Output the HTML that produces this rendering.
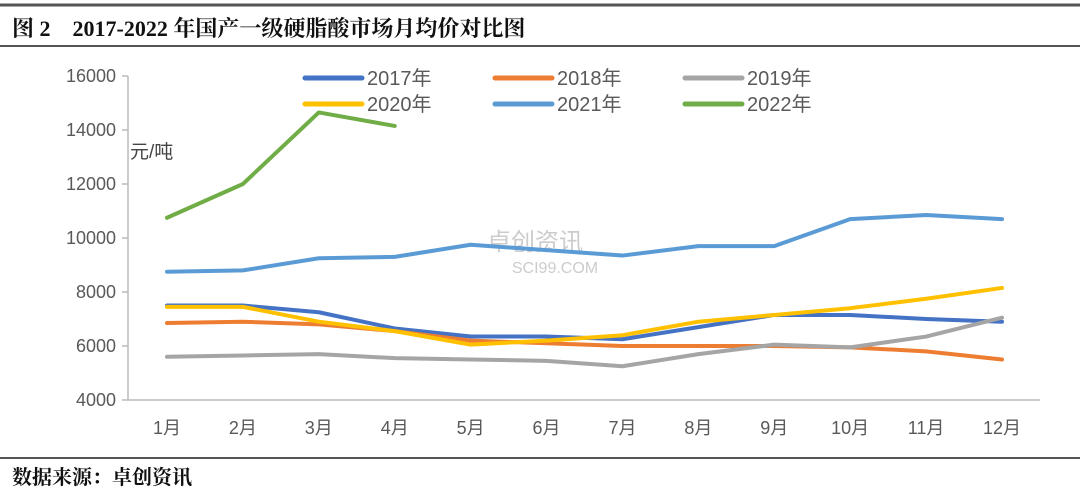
<!DOCTYPE html>
<html><head><meta charset="utf-8">
<style>
body{margin:0;width:1080px;height:493px;background:#fff;overflow:hidden;font-family:"Liberation Sans","Noto Sans CJK SC",sans-serif;}
svg text{font-family:"Liberation Sans","Noto Sans CJK SC",sans-serif;}
svg text.serif{font-family:"Liberation Serif","Noto Serif CJK SC",serif;}
</style></head>
<body>
<svg width="1080" height="493">
<line x1="0" y1="5" x2="1080" y2="5" stroke="#555" stroke-width="3"/>
<text class="serif" x="12" y="36" font-size="22" fill="#111" font-weight="bold">图 2　2017-2022 年国产一级硬脂酸市场月均价对比图</text>
<line x1="0" y1="46" x2="1080" y2="46" stroke="#555" stroke-width="2"/>
<line x1="0" y1="458" x2="1080" y2="458" stroke="#555" stroke-width="2"/>
<text class="serif" x="12" y="484" font-size="20" font-weight="bold" fill="#111">数据来源：卓创资讯</text>
<text x="130" y="158" font-size="19" fill="#444">元/吨</text>
<text x="535" y="250" font-size="24" fill="#ccc" text-anchor="middle">卓创资讯</text>
<text x="555" y="273" font-size="16" fill="#ccc" text-anchor="middle">SCI99.COM</text>
<g id="axes"></g>
<g id="series"></g>
<g id="legend"></g>
</svg>
<script>
const months=["1月","2月","3月","4月","5月","6月","7月","8月","9月","10月","11月","12月"];
const yTicks=[4000,6000,8000,10000,12000,14000,16000];
const seriesNames=["2017年","2018年","2019年","2020年","2021年","2022年"];
const seriesColors=["#4472c4","#ed7d31","#a5a5a5","#ffc000","#5b9bd5","#70ad47"];
const s2017=[7500,7500,7250,6650,6350,6350,6250,6700,7150,7150,7000,6900];
const s2018=[6850,6900,6800,6550,6200,6100,6000,6000,6000,5950,5800,5500];
const s2019=[5600,5650,5700,5550,5500,5450,5250,5700,6050,5950,6350,7050];
const s2020=[7450,7450,6900,6550,6050,6200,6400,6900,7150,7400,7750,8150];
const s2021=[8750,8800,9250,9300,9750,9550,9350,9700,9700,10700,10850,10700];
const s2022=[10750,12000,14650,14150];
const allSeries=[s2017,s2018,s2019,s2020,s2021,s2022];
const NS="http://www.w3.org/2000/svg";
const x=i=>167+i*(1002-167)/11;
const y=v=>400-(v-4000)*324/12000;
function mk(tag,attrs,parent){const e=document.createElementNS(NS,tag);for(const k in attrs)e.setAttribute(k,attrs[k]);parent.appendChild(e);return e;}
const ax=document.getElementById('axes');
let l=mk('line',{x1:128,y1:y(16000),x2:128,y2:400,stroke:'#bbb','stroke-width':1.5},ax);


l=mk('line',{x1:128,y1:400,x2:1040,y2:400,stroke:'#bbb','stroke-width':1.5},ax);


yTicks.forEach(v=>{
 const t=mk('line',{x1:122,y1:y(v),x2:128,y2:y(v),stroke:'#bbb','stroke-width':1.5},ax);
 
 
 const tx=mk('text',{x:116,y:y(v)+6,'font-size':18,fill:'#595959','text-anchor':'end'},ax);
 tx.textContent=v;
 
 
});
months.forEach((m,i)=>{
 const tx=mk('text',{x:x(i),y:434,'font-size':18,fill:'#595959','text-anchor':'middle'},ax);
 tx.textContent=m;
 
 
});
const sg=document.getElementById('series');
allSeries.forEach((s,k)=>{
 const p=mk('polyline',{points:s.map((v,i)=>x(i)+','+y(v)).join(' '),fill:'none',stroke:seriesColors[k],'stroke-width':4,'stroke-linejoin':'round','stroke-linecap':'round'},sg);
 
 
});
const lg=document.getElementById('legend');
seriesNames.forEach((n,k)=>{
 const lx=305+(k%3)*190, ly=78+Math.floor(k/3)*26;
 const g=mk('g',{},lg);
 
 
 mk('line',{x1:lx,y1:ly,x2:lx+57,y2:ly,stroke:seriesColors[k],'stroke-width':5,'stroke-linecap':'round'},g);
 const t=mk('text',{x:lx+62,y:ly+7,'font-size':20,fill:'#595959'},g);
 t.textContent=n;
});
</script>
</body></html>
